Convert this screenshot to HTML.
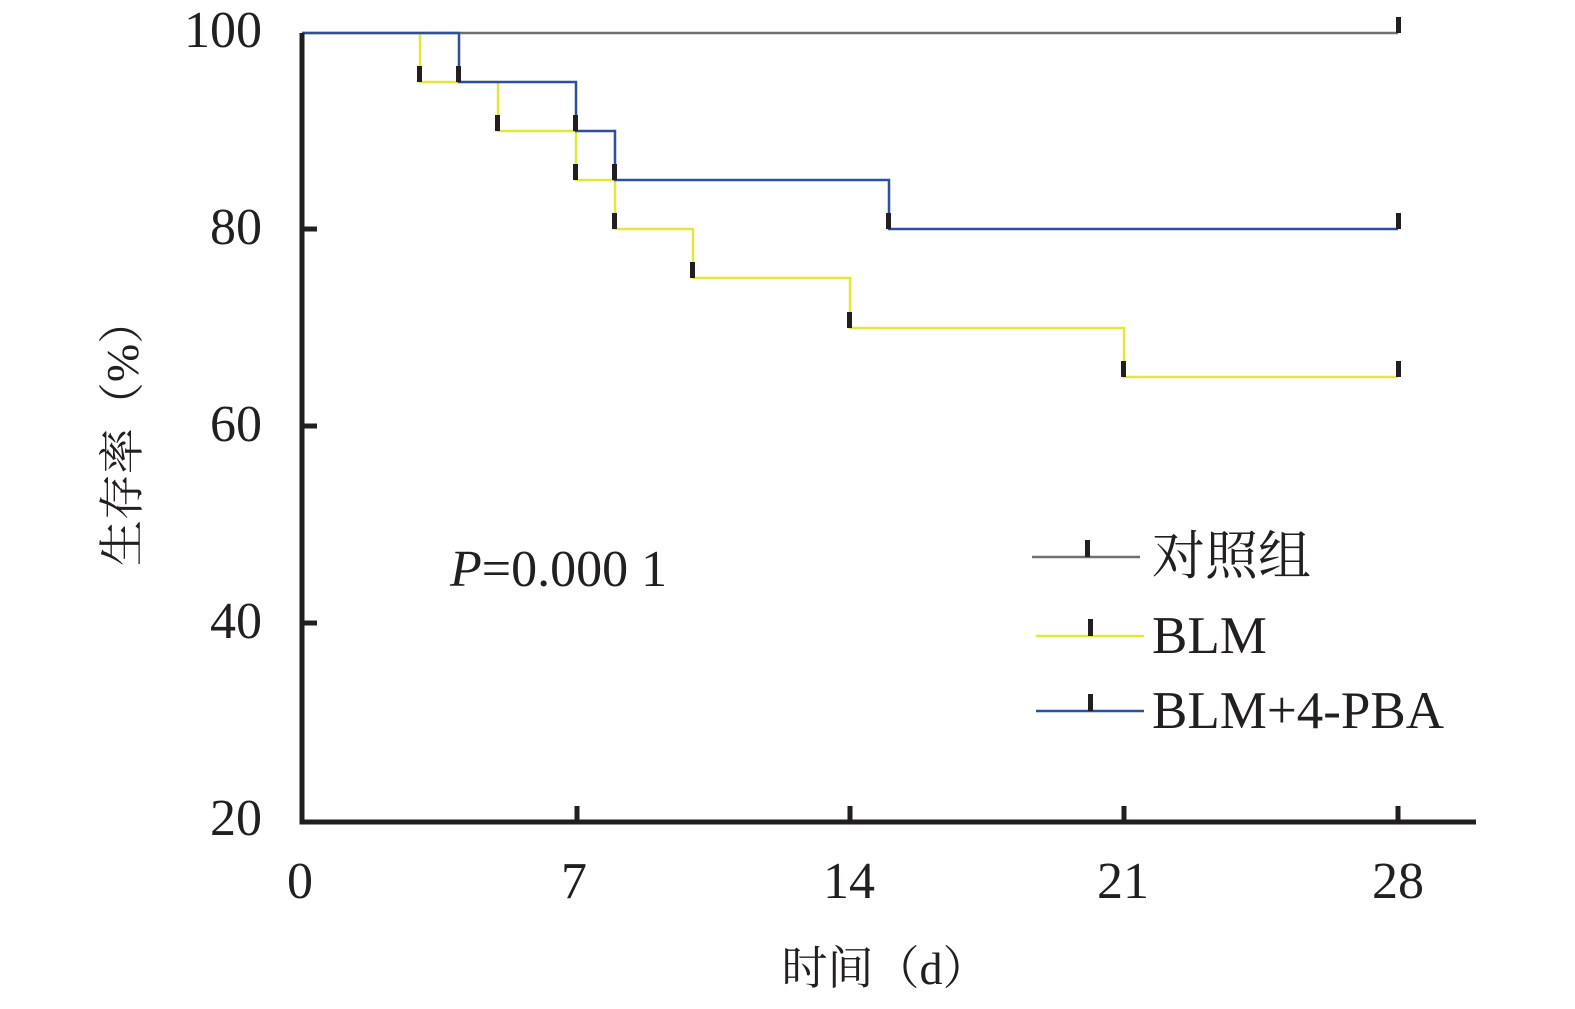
<!DOCTYPE html>
<html><head><meta charset="utf-8"><style>body{margin:0;background:#fff}</style></head><body>
<svg width="1575" height="1004" xmlns="http://www.w3.org/2000/svg" style="font-family:'Liberation Serif','Noto Serif CJK SC',serif;fill:#231f20">
<g font-size="52" text-anchor="end">
<text x="262" y="47">100</text><text x="262" y="244">80</text><text x="262" y="441">60</text><text x="262" y="638">40</text><text x="262" y="835">20</text>
</g>
<g font-size="52" text-anchor="middle">
<text x="300" y="898">0</text><text x="574" y="898">7</text><text x="849" y="898">14</text><text x="1123" y="898">21</text><text x="1398" y="898">28</text>
</g>
<text x="885" y="984" font-size="46" text-anchor="middle">时间（d）</text>
<text transform="translate(138,432) rotate(-90)" font-size="46" text-anchor="middle">生存率（%）</text>
<text x="450" y="586" font-size="52"><tspan font-style="italic">P</tspan>=0.000 1</text>
<g fill="none" stroke-width="2.5">
<path d="M302 33H1398" stroke="#707070"/>
<path d="M302 33H420V82H498V131H576V180H615V229H693V278H850V328H1124V377H1398" stroke="#e2e83a"/>
<path d="M302 33H459V82H576V131H615V180H889V229H1398" stroke="#2e4f9e"/>
</g>
<g fill="none" stroke="#231f20" stroke-width="5">
<path d="M302 33V822H1476"/>
<path d="M302 229H317M302 426H317M302 623H317"/>
<path d="M577 822V806M850 822V806M1124 822V806M1398 822V806"/>
</g>
<g fill="#231f20">
<rect x="417" y="66" width="5" height="16"/><rect x="456" y="66" width="5" height="16"/>
<rect x="495" y="115" width="5" height="16"/><rect x="573" y="115" width="5" height="16"/>
<rect x="573" y="164" width="5" height="16"/><rect x="612" y="164" width="5" height="16"/>
<rect x="612" y="213" width="5" height="16"/><rect x="690" y="262" width="5" height="16"/>
<rect x="847" y="312" width="5" height="16"/><rect x="886" y="213" width="5" height="16"/>
<rect x="1121" y="361" width="5" height="16"/><rect x="1396" y="361" width="5" height="16"/>
<rect x="1396" y="213" width="5" height="16"/><rect x="1396" y="17" width="5" height="16"/>
</g>
<path d="M1032 557H1140" stroke="#707070" stroke-width="2.5"/><rect x="1085" y="540" width="5" height="17"/>
<path d="M1036 636H1144" stroke="#e2e83a" stroke-width="2.5"/><rect x="1088" y="619" width="5" height="17"/>
<path d="M1036 711H1144" stroke="#2e4f9e" stroke-width="2.5"/><rect x="1088" y="694" width="5" height="17"/>
<g font-size="53"><text x="1152" y="574">对照组</text><text x="1152" y="653">BLM</text><text x="1152" y="728">BLM+4-PBA</text></g>
</svg>
</body></html>
